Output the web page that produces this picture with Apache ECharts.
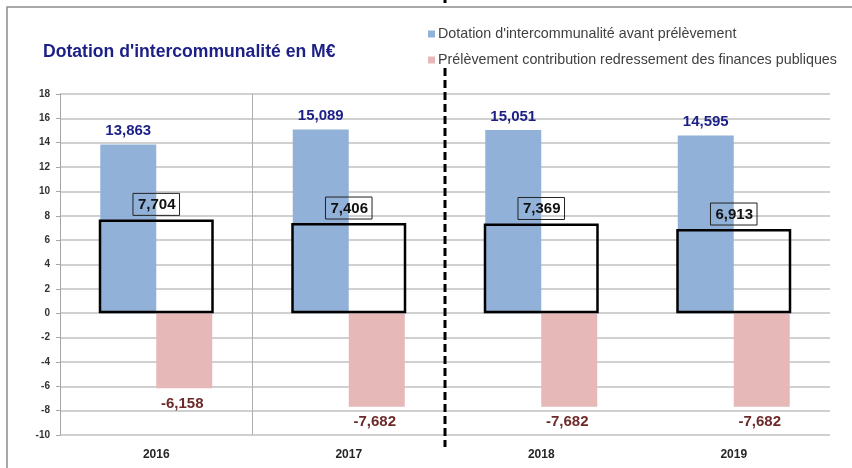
<!DOCTYPE html>
<html>
<head>
<meta charset="utf-8">
<script src="https://cdn.jsdelivr.net/npm/echarts@6/dist/echarts.min.js"></script>
<style>
  html, body { margin: 0; padding: 0; background: #fff; }
  #chart { width: 852px; height: 468px; }
</style>
</head>
<body>
<div id="chart"></div>
<script>
const years = ['2016', '2017', '2018', '2019'];
const dotationAvant = [13.863, 15.089, 15.051, 14.595];
const prelevement = [-6.158, -7.682, -7.682, -7.682];
const dotationNette = [7.704, 7.406, 7.369, 6.913];
const yTicks = { min: -10, max: 18, interval: 2 };

const fmt = v => v.toFixed(3).replace('.', ',');
const font = 'Liberation Sans, Arial, sans-serif';

const chart = echarts.init(document.getElementById('chart'));

chart.setOption({
  backgroundColor: '#fff',
  animation: false,
  title: {
    text: "Dotation d'intercommunalité en M€",
    left: 38,
    top: 38,
    textStyle: { fontFamily: font, fontSize: 17.6, fontWeight: 'bold', color: '#1c1f86' }
  },
  legend: {
    orient: 'vertical',
    left: 423,
    top: 22,
    itemWidth: 7,
    itemHeight: 7,
    itemGap: 12,
    icon: 'rect',
    data: ["Dotation d'intercommunalité avant prélèvement", 'Prélèvement contribution redressement des finances publiques'],
    textStyle: { fontFamily: font, fontSize: 14.3, color: '#404040', padding: [0, 0, 0, -2] }
  },
  grid: { left: 60, right: 22, top: 94, bottom: 33 },
  xAxis: [{
    type: 'category',
    data: years,
    axisLine: { show: false },
    axisTick: { show: false },
    splitLine: { show: false },
    axisLabel: { margin: 14, fontFamily: font, fontSize: 12, fontWeight: 'bold', color: '#262626' }
  }, {
    type: 'category',
    data: years,
    show: false
  }],
  yAxis: {
    type: 'value',
    min: yTicks.min,
    max: yTicks.max,
    interval: yTicks.interval,
    axisLine: { show: true, lineStyle: { color: '#a6a6a6', width: 1 } },
    axisTick: { show: true, length: 4, lineStyle: { color: '#a6a6a6' } },
    splitLine: { lineStyle: { color: '#c0c0c0', width: 1.5 } },
    axisLabel: { margin: 10, fontFamily: font, fontSize: 10, fontWeight: 'bold', color: '#333' }
  },
  series: [{
    name: "Dotation d'intercommunalité avant prélèvement",
    type: 'bar',
    data: dotationAvant,
    barWidth: 56,
    barGap: '0%',
    itemStyle: { color: '#92b1d8' },
    label: {
      show: true,
      position: 'top',
      distance: 6,
      formatter: p => fmt(p.value),
      fontFamily: font, fontSize: 15, fontWeight: 'bold', color: '#1c1f86'
    }
  }, {
    name: 'Prélèvement contribution redressement des finances publiques',
    type: 'bar',
    data: prelevement,
    barWidth: 56,
    barGap: '0%',
    itemStyle: { color: '#e6b8b8' },
    label: {
      show: true,
      position: 'bottom',
      distance: 8,
      offset: [-2, 0],
      formatter: p => fmt(p.value),
      fontFamily: font, fontSize: 15, fontWeight: 'bold', color: '#6e2a2a'
    }
  }, {
    name: 'Dotation nette',
    type: 'bar',
    xAxisIndex: 1,
    data: dotationNette,
    barWidth: 115,
    z: 5,
    itemStyle: { color: 'rgba(0,0,0,0)', borderColor: '#000', borderWidth: 2.5 },
    label: {
      show: true,
      position: 'top',
      distance: 4,
      formatter: p => fmt(p.value),
      borderColor: '#222',
      borderWidth: 1,
      padding: [4, 4, 3, 5],
      fontFamily: font, fontSize: 15, fontWeight: 'bold', color: '#111'
    }
  }]
});

// gridline between 2016 and 2017, dashed separator between 2017 and 2018
const cx = years.map(y => chart.convertToPixel({ xAxisIndex: 0 }, y));
const yTop = chart.convertToPixel({ yAxisIndex: 0 }, yTicks.max);
const yBot = chart.convertToPixel({ yAxisIndex: 0 }, yTicks.min);
const sep1 = (cx[0] + cx[1]) / 2;
const sep2 = (cx[1] + cx[2]) / 2;

chart.setOption({
  graphic: [
    { type: 'rect', shape: { x: 7, y: 7, width: 900, height: 500 }, style: { fill: 'none', stroke: '#8c8c8c', lineWidth: 1.5 }, silent: true, z: -1 },
    { type: 'line', shape: { x1: sep1, y1: yTop, x2: sep1, y2: yBot }, style: { stroke: '#b0b0b0', lineWidth: 1 }, silent: true },
    { type: 'line', shape: { x1: sep2, y1: 68, x2: sep2, y2: 447 }, style: { stroke: '#000', lineWidth: 3, lineDash: [8, 4] }, silent: true, z: 10 },
    { type: 'line', shape: { x1: sep2, y1: 0, x2: sep2, y2: 3 }, style: { stroke: '#000', lineWidth: 3 }, silent: true, z: 10 }
  ]
});
</script>
</body>
</html>
